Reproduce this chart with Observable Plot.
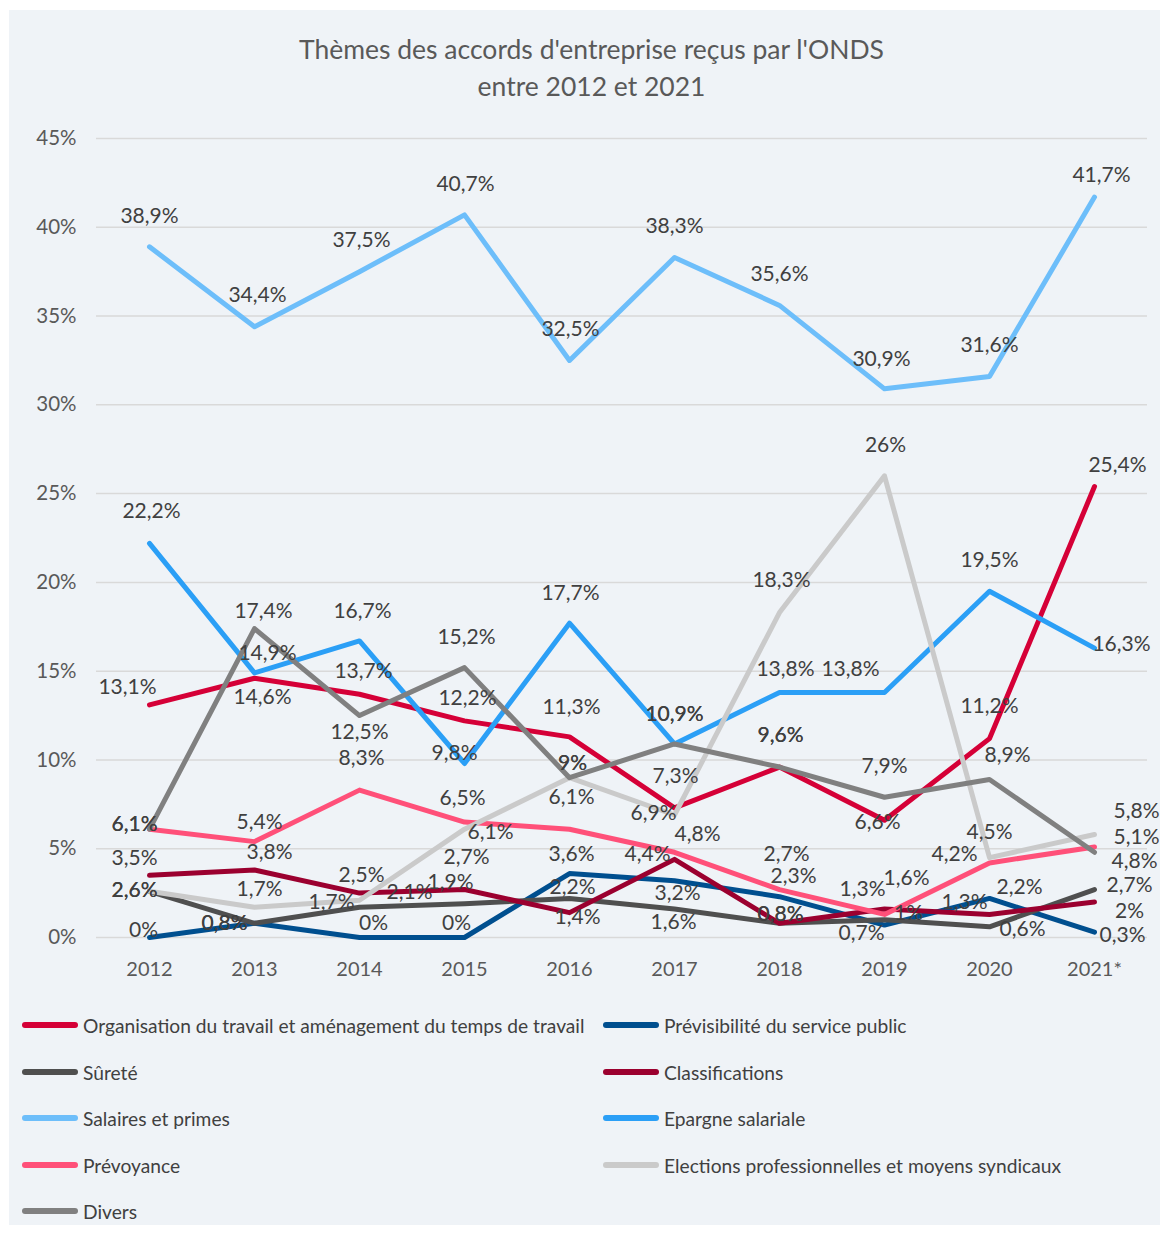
<!DOCTYPE html>
<html><head><meta charset="utf-8">
<script src="https://cdn.jsdelivr.net/npm/d3@7"></script>
<script src="https://cdn.jsdelivr.net/npm/@observablehq/plot@0.6"></script>
<style>
body{margin:0;background:#fff;font-family:Lato,sans-serif;}
#panel{position:absolute;left:9px;top:10px;width:1151px;height:1215px;background:#eff3f7;}
#title{position:absolute;left:7px;top:21px;width:1151px;text-align:center;font-size:26.5px;line-height:37px;color:#595959;}
#chart{position:absolute;left:0;top:110px;}
.leg{position:absolute;display:flex;align-items:center;height:24px;font-size:19.2px;color:#404040;white-space:nowrap;}
.sw{width:56px;height:6px;border-radius:3px;margin-right:5px;flex:none;}
</style></head><body>
<div id="panel">
<div id="title">Thèmes des accords d'entreprise reçus par l'ONDS<br>entre 2012 et 2021</div>
<div id="chart"></div>
<div id="legend"></div>
</div>
<script>
// ---- data ----
const years = ["2012","2013","2014","2015","2016","2017","2018","2019","2020","2021*"];
const seriesNames = [
  "Organisation du travail et aménagement du temps de travail",
  "Prévisibilité du service public",
  "Sûreté",
  "Classifications",
  "Salaires et primes",
  "Epargne salariale",
  "Prévoyance",
  "Elections professionnelles et moyens syndicaux",
  "Divers"
];
const organisation   = [13.1, 14.6, 13.7, 12.2, 11.3, 7.3, 9.6, 6.6, 11.2, 25.4];
const previsibilite  = [0, 0.8, 0, 0, 3.6, 3.2, 2.3, 0.7, 2.2, 0.3];
const surete         = [2.6, 0.8, 1.7, 1.9, 2.2, 1.6, 0.8, 1, 0.6, 2.7];
const classifications= [3.5, 3.8, 2.5, 2.7, 1.4, 4.4, 0.8, 1.6, 1.3, 2];
const salaires       = [38.9, 34.4, 37.5, 40.7, 32.5, 38.3, 35.6, 30.9, 31.6, 41.7];
const epargne        = [22.2, 14.9, 16.7, 9.8, 17.7, 10.9, 13.8, 13.8, 19.5, 16.3];
const prevoyance     = [6.1, 5.4, 8.3, 6.5, 6.1, 4.8, 2.7, 1.3, 4.2, 5.1];
const elections      = [2.6, 1.7, 2.1, 6.1, 9, 6.9, 18.3, 26, 4.5, 5.8];
const divers         = [6.1, 17.4, 12.5, 15.2, 9, 10.9, 9.6, 7.9, 8.9, 4.8];
const yTicks = [0, 5, 10, 15, 20, 25, 30, 35, 40, 45];

// ---- styling ----
const colors = ["#D50037","#004F8F","#4F4F4F","#9B002F","#6DBEFA","#2B9FF6","#FF5079","#CACACA","#808080"];
const valuesBySeries = [organisation, previsibilite, surete, classifications, salaires, epargne, prevoyance, elections, divers];
// data-label nudges (dx, dy) per series, per year, in px
const nudges = [
  [[-22,-18],[8,19],[4,-23],[3,-23],[2,-30],[1,-32],[1,-32],[-7,2],[0,-32],[23,-21]],
  [[-6,-7],[-30,0],[14,-14],[-8,-14],[2,-19],[3,13],[14,-20],[-23,8],[30,-11],[28,3]],
  [[-15,-1],[-30,0],[-28,-5],[-14,-21],[3,-11],[-1,13],[1,-9],[24,-6],[33,2],[35,-4]],
  [[-15,-17],[15,-18],[2,-18],[2,-32],[8,5],[-27,-5],[1,-9],[22,-31],[-25,-12],[35,9]],
  [[0,-31],[3,-31],[2,-31],[1,-31],[1,-31],[0,-31],[0,-31],[-3,-30],[0,-31],[7,-22]],
  [[2,-32],[13,-20],[3,-30],[-10,-10],[1,-30],[0,-30],[6,-23],[-34,-23],[0,-31],[27,-4]],
  [[-15,-5],[5,-19],[2,-32],[-2,-24],[2,-32],[23,-18],[7,-35],[-22,-25],[-35,-9],[42,-10]],
  [[-15,-1],[5,-18],[50,-8],[26,3],[3,-14],[-21,-2],[2,-32],[1,-31],[0,-25],[42,-23]],
  [[-15,-5],[9,-17],[0,17],[2,-30],[3,-14],[0,-30],[1,-32],[0,-31],[18,-24],[40,9]]
];

const fmt = v => String(v).replace(".", ",") + "%";

const lineMarks = [];
const labelMarks = [];
seriesNames.forEach((name, si) => {
  const rows = years.map((year, i) => ({year, value: valuesBySeries[si][i], series: name}));
  lineMarks.push(Plot.line(rows, {x: "year", y: "value", stroke: colors[si], strokeWidth: 5, strokeLinejoin: "round", strokeLinecap: "round"}));
  rows.forEach((r, i) => {
    const [dx, dy] = nudges[si][i];
    labelMarks.push(Plot.text([r], {x: "year", y: "value", text: d => fmt(d.value), dx, dy, fill: "#404040", fontSize: 21}));
  });
});

const chart = Plot.plot({
  width: 1151, height: 880,
  marginTop: 18, marginBottom: 63, marginLeft: 87, marginRight: 13,
  style: {background: "transparent", fontFamily: "Lato, sans-serif", color: "#595959", overflow: "visible"},
  x: {type: "point", domain: years, padding: 0.5, label: null},
  y: {domain: [0, 45], label: null},
  marks: [
    Plot.ruleY(yTicks, {stroke: "#d9d9d9", strokeWidth: 1.5}),
    Plot.axisY(yTicks, {tickSize: 0, tickPadding: 20, fontSize: 20.5, tickFormat: d => d + "%", label: null}),
    Plot.axisX({tickSize: 0, tickPadding: 24, fontSize: 20, label: null}),
    ...lineMarks,
    ...labelMarks
  ]
});
document.getElementById("chart").appendChild(chart);

// legend
const legend = document.getElementById("legend");
const rowsY = [1015, 1062, 1108, 1155, 1201];
seriesNames.forEach((name, i) => {
  const row = Math.floor(i / 2), col = i % 2;
  const el = document.createElement("div");
  el.className = "leg";
  el.style.left = (col === 0 ? 13 : 594) + "px";
  el.style.top = (rowsY[row] - 12) + "px";
  el.innerHTML = `<span class="sw" style="background:${colors[i]}"></span><span>${name}</span>`;
  legend.appendChild(el);
});
</script>
</body></html>
